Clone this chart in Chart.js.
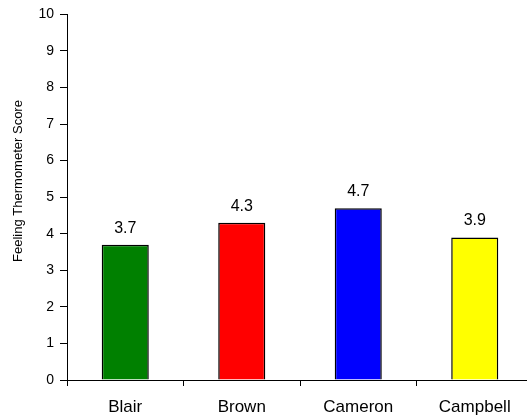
<!DOCTYPE html>
<html>
<head>
<meta charset="utf-8">
<script src="https://cdn.jsdelivr.net/npm/chart.js@4/dist/chart.umd.min.js"></script>
<style>
  html, body { margin: 0; padding: 0; background: #fff; overflow: hidden; }
  #chart { display: block; }
</style>
</head>
<body>
<canvas id="chart" width="533" height="420"></canvas>
<script>
const leaders = ["Blair", "Brown", "Cameron", "Campbell"];
const scores = [3.7, 4.3, 4.7, 3.9];
const barColors = ["#008000", "#ff0000", "#0000ff", "#ffff00"];
const yTicks = [0, 1, 2, 3, 4, 5, 6, 7, 8, 9, 10];
const yTitle = "Feeling Thermometer Score";

const FONT = "'Liberation Sans', Arial, sans-serif";

// value printed above each bar
const valueLabels = {
  id: 'valueLabels',
  afterDatasetsDraw(chart) {
    const ctx = chart.ctx;
    const meta = chart.getDatasetMeta(0);
    ctx.save();
    ctx.font = "16px " + FONT;
    ctx.fillStyle = "#000";
    ctx.textAlign = "center";
    ctx.textBaseline = "alphabetic";
    meta.data.forEach((bar, i) => {
      ctx.fillText(scores[i].toFixed(1), bar.x, bar.y - 12);
    });
    ctx.restore();
  }
};

// rotated y axis title
const axisTitle = {
  id: 'axisTitle',
  afterDraw(chart) {
    const ctx = chart.ctx;
    ctx.save();
    ctx.translate(18, 181);
    ctx.rotate(-Math.PI / 2);
    ctx.font = "13px " + FONT;
    ctx.fillStyle = "#000";
    ctx.textAlign = "center";
    ctx.textBaseline = "middle";
    ctx.fillText(yTitle, 0, 0);
    ctx.restore();
  }
};

new Chart(document.getElementById("chart").getContext("2d"), {
  type: 'bar',
  data: {
    labels: leaders,
    datasets: [{
      data: scores,
      backgroundColor: barColors,
      borderColor: "#000",
      borderWidth: 1.5,
      borderSkipped: 'start',
      barPercentage: 0.404,
      categoryPercentage: 1
    }]
  },
  options: {
    responsive: false,
    animation: false,
    devicePixelRatio: 1,
    layout: { padding: { top: 14, left: 0, right: 0, bottom: 0 } },
    plugins: {
      legend: { display: false },
      tooltip: { enabled: false }
    },
    scales: {
      x: {
        offset: true,
        grid: {
          offset: true,
          drawOnChartArea: false,
          drawTicks: true,
          tickLength: 6,
          color: "#000"
        },
        border: { display: true, color: "#000", width: 1 },
        ticks: {
          color: "#000",
          font: { family: FONT, size: 17 },
          padding: 11,
          maxRotation: 0
        },
        afterFit(scale) { scale.height = 40; }
      },
      y: {
        min: 0,
        max: 10,
        afterBuildTicks(scale) { scale.ticks = yTicks.map(v => ({ value: v })); },
        grid: {
          drawOnChartArea: false,
          drawTicks: true,
          tickLength: 7,
          color: "#000"
        },
        border: { display: true, color: "#000", width: 1 },
        ticks: {
          color: "#000",
          font: { family: FONT, size: 14 },
          padding: 6
        },
        afterFit(scale) { scale.width = 67; }
      }
    }
  },
  plugins: [valueLabels, axisTitle]
});
</script>
</body>
</html>
